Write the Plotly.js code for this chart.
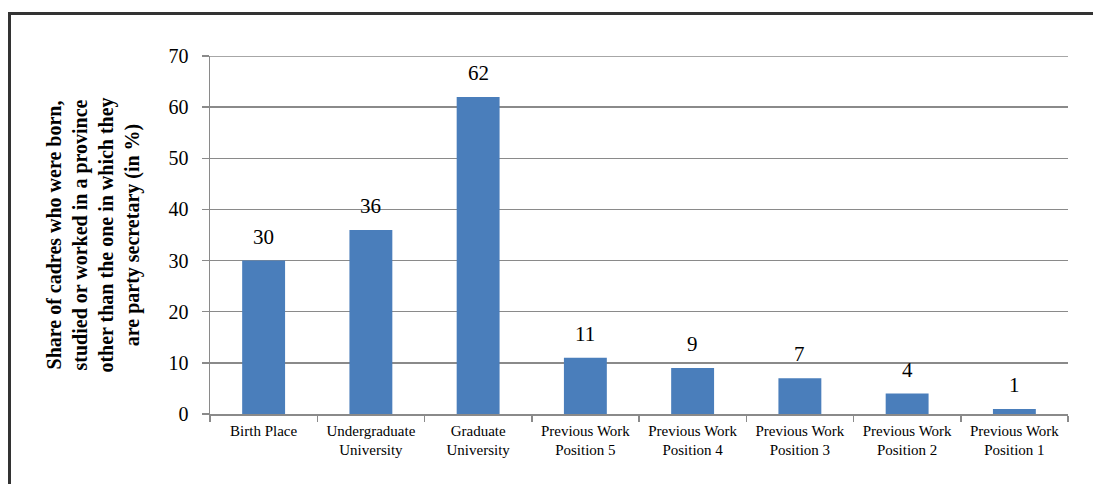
<!DOCTYPE html>
<html>
<head>
<meta charset="utf-8">
<script src="https://cdn.plot.ly/plotly-3.0.1.min.js"></script>
<style>
  html, body { margin: 0; padding: 0; background: #fff; }
  #wrap { position: relative; width: 1093px; height: 484px; overflow: hidden; }
  #chart { position: absolute; left: 0; top: 0; width: 1093px; height: 484px; }
  #frame { position: absolute; left: 8px; top: 12px; width: 1200px; height: 600px;
           border-left: 3px solid #333; border-top: 3px solid #333; pointer-events: none; }
</style>
</head>
<body>
<div id="wrap">
  <div id="chart"></div>
  <div id="frame"></div>
</div>
<script>
const categories = [
  "Birth Place",
  "Undergraduate<br>University",
  "Graduate<br>University",
  "Previous Work<br>Position 5",
  "Previous Work<br>Position 4",
  "Previous Work<br>Position 3",
  "Previous Work<br>Position 2",
  "Previous Work<br>Position 1"
];
const values = [30, 36, 62, 11, 9, 7, 4, 1];
const yTicks = [0, 10, 20, 30, 40, 50, 60, 70];
const yMax = 70;
const yTitle = "Share of cadres who were born,<br>studied or worked in a province<br>other than the one in which they<br>are party secretary (in %)";

const serif = "'Liberation Serif', 'Times New Roman', serif";
const gridColor = "#8a8a8a";

const trace = {
  type: "bar",
  x: categories,
  y: values,
  marker: { color: "#4a7ebb" },
  width: 0.4,
  hoverinfo: "none"
};

const annotations = categories.map((c, i) => ({
  x: c, y: values[i], xref: "x", yref: "y",
  text: String(values[i]), showarrow: false,
  yanchor: "bottom", yshift: 10,
  font: { family: serif, size: 21, color: "#000" }
}));

const layout = {
  width: 1093, height: 484,
  margin: { l: 210, r: 25, t: 56, b: 70 },
  paper_bgcolor: "#fff", plot_bgcolor: "#fff",
  showlegend: false,
  bargap: 0.6,
  xaxis: {
    type: "category",
    tickson: "boundaries",
    ticks: "outside", ticklen: 6, tickcolor: gridColor, tickwidth: 1.5,
    showline: true, linecolor: gridColor, linewidth: 1.5,
    showgrid: false, zeroline: false,
    tickfont: { family: serif, size: 15, color: "#000" },
    ticklabelstandoff: 2,
    automargin: false
  },
  yaxis: {
    range: [0, yMax],
    tickvals: yTicks,
    ticks: "outside", ticklen: 7, tickcolor: gridColor, tickwidth: 1.5,
    showline: true, linecolor: gridColor, linewidth: 1.5,
    showgrid: true, gridcolor: gridColor, gridwidth: 1.5,
    zeroline: false,
    tickfont: { family: serif, size: 20, color: "#000" },
    ticklabelstandoff: 9,
    title: { text: "<b>" + yTitle + "</b>", font: { family: serif, size: 20, color: "#000" }, standoff: 23 },
    automargin: false
  },
  shapes: [{
    type: "line", xref: "paper", yref: "y",
    x0: 0, x1: 1, y0: yMax, y1: yMax,
    line: { color: gridColor, width: 1.5 }
  }],
  annotations: annotations
};

Plotly.newPlot("chart", [trace], layout, { staticPlot: true, displayModeBar: false });
</script>
</body>
</html>
